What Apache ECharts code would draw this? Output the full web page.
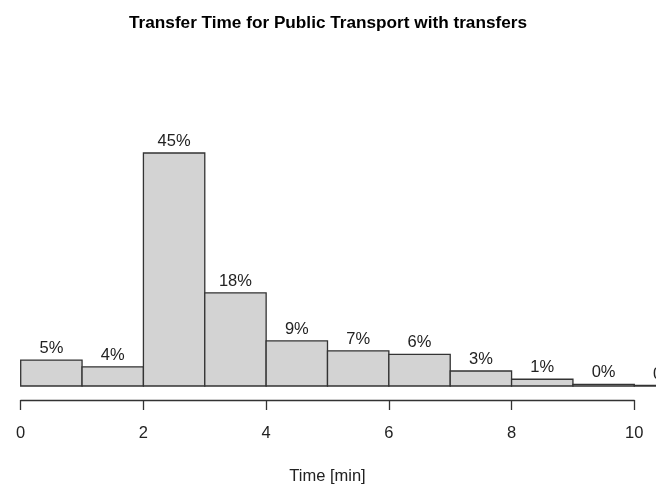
<!DOCTYPE html>
<html>
<head>
<meta charset="utf-8">
<script src="https://cdn.jsdelivr.net/npm/echarts@6.0.0/dist/echarts.min.js"></script>
<style>
  html, body { margin: 0; padding: 0; background: #fff; }
  #chart { width: 656px; height: 486px; }
</style>
</head>
<body>
<div id="chart"></div>
<script>
// histogram bins (minutes) and share of trips in %
const binStart = [0, 1, 2, 3, 4, 5, 6, 7, 8, 9, 10];
const binEnd   = [1, 2, 3, 4, 5, 6, 7, 8, 9, 10, 11];
const share    = [5.0, 3.7, 45.0, 18.0, 8.7, 6.8, 6.1, 2.9, 1.3, 0.3, 0.1];
const tickLabels = ['0', '2', '4', '6', '8', '10'];

const FONT = '"Liberation Sans", Arial, sans-serif';

const chart = echarts.init(document.getElementById('chart'));

const data = binStart.map((s, i) => [s, binEnd[i], share[i]]);

// one rectangle per bin, label with rounded percentage on top
function renderBin(params, api) {
    const topLeft = api.coord([api.value(0), api.value(2)]);
    const bottomRight = api.coord([api.value(1), 0]);
    const label = Math.round(api.value(2)) + '%';
    return {
        type: 'group',
        children: [{
            type: 'rect',
            shape: {
                x: topLeft[0],
                y: topLeft[1],
                width: bottomRight[0] - topLeft[0],
                height: bottomRight[1] - topLeft[1]
            },
            style: { fill: '#d3d3d3', stroke: '#333', lineWidth: 1.3 }
        }, {
            type: 'text',
            x: (topLeft[0] + bottomRight[0]) / 2,
            y: topLeft[1] - 3,
            style: {
                text: label,
                fill: '#222',
                font: '16.5px ' + FONT,
                align: 'center',
                verticalAlign: 'bottom'
            }
        }]
    };
}

chart.setOption({
    animation: false,
    title: {
        text: 'Transfer Time for Public Transport with transfers',
        left: 'center',
        top: 10,
        textStyle: {
            fontFamily: FONT,
            fontWeight: 'bold',
            fontSize: 17.2,
            color: '#000'
        }
    },
    grid: { left: 20.7, right: 21.7, top: 153, bottom: 100 },
    xAxis: {
        type: 'value',
        min: 0,
        max: 10,
        interval: 2,
        offset: 14,
        name: 'Time [min]',
        nameLocation: 'middle',
        nameGap: 68,
        nameTextStyle: {
            fontFamily: FONT,
            fontSize: 16.5,
            color: '#222'
        },
        axisLine: { onZero: false, lineStyle: { color: '#333', width: 1.3 } },
        axisTick: { length: 10, lineStyle: { color: '#333', width: 1.3 } },
        axisLabel: {
            margin: 25,
            fontFamily: FONT,
            fontSize: 16.5,
            color: '#222',
            formatter: v => tickLabels[v / 2]
        },
        splitLine: { show: false }
    },
    yAxis: {
        type: 'value',
        min: 0,
        max: 45,
        show: false
    },
    series: [{
        type: 'custom',
        renderItem: renderBin,
        clip: false,
        encode: { x: [0, 1], y: 2 },
        data: data
    }]
});
</script>
</body>
</html>
